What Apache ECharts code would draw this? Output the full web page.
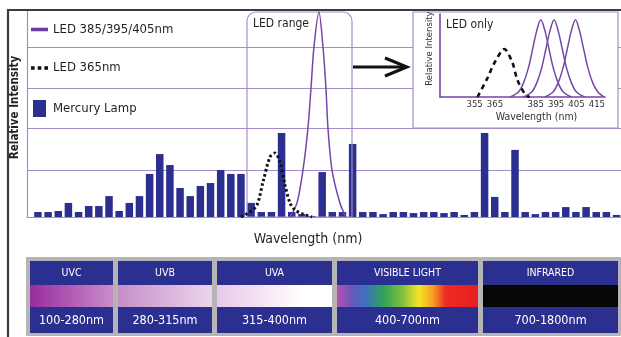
<!DOCTYPE html>
<html>
<head>
<meta charset="utf-8">
<title>UV spectrum</title>
<script src="https://cdn.jsdelivr.net/npm/echarts@6/dist/echarts.min.js"></script>
<style>
  html, body { margin: 0; padding: 0; background: #fff; }
  #uvChart { width: 621px; height: 337px; }
</style>
</head>
<body>
<div id="uvChart"></div>
<script>
// mercury lamp lines, one bar per slot, relative intensity (% of plot height)
var mercuryLamp = [2.4, 2.4, 2.9, 6.8, 2.4, 5.3, 5.3, 10.1, 2.9, 6.8,
    10.1, 20.8, 30.4, 25.1, 14.0, 10.1, 15.0, 16.4, 22.7, 20.8,
    20.8, 6.8, 2.4, 2.4, 40.6, 2.4, 1.4, 0.5, 21.7, 2.4,
    2.4, 35.3, 2.4, 2.4, 1.4, 2.4, 2.4, 1.9, 2.4, 2.4,
    1.9, 2.4, 1.0, 2.4, 40.6, 9.7, 2.4, 32.4, 2.4, 1.4,
    2.4, 2.4, 4.8, 2.4, 4.8, 2.4, 2.4, 1.0];

// LED curves over the bars: [slot, intensity]
var led365Main = [[20.0, 0], [20.89, 2.4], [21.58, 5.8], [22.17, 16.9], [22.86, 29], [23.35, 30.9],
    [23.84, 26.6], [24.33, 15.5], [24.83, 6.8], [25.32, 3.4], [26.11, 1.4], [27.0, 0]];
var ledUvMain = [[24.83, 0], [25.52, 6.8], [26.11, 22.7], [26.6, 43], [26.9, 62.3], [27.19, 82.1], [27.68, 99],
    [28.08, 82.1], [28.37, 62.3], [28.57, 43], [28.97, 22.7], [29.75, 6.8], [30.34, 0]];

// "LED only" inset: [wavelength nm, intensity]
var led365Inset = [[356.4, 0], [361.3, 22.9], [364.7, 41], [369.6, 57.8], [373.6, 41], [376, 20.5], [380, 2.4], [382, 0]];
var led385Inset = [[372.5, 0], [376.5, 6], [379, 17], [381.5, 36], [383.5, 58], [385.5, 80], [387.5, 93],
    [389.5, 80], [391.5, 58], [393.5, 36], [396, 17], [398.5, 6], [402.5, 0]];
var led395Inset = [[379, 0], [383, 6], [385.5, 17], [388, 36], [390, 58], [392, 80], [394, 93],
    [396, 80], [398, 58], [400, 36], [402.5, 17], [405, 6], [409, 0]];
var led405Inset = [[389.5, 0], [393.5, 6], [396, 17], [398.5, 36], [400.5, 58], [402.5, 80], [404.5, 93],
    [406.5, 80], [408.5, 58], [410.5, 36], [413, 17], [415.5, 6], [418.5, 0]];
var insetTicks = [355, 365, 385, 395, 405, 415];

var gridLevels = [22.7, 43, 62.3, 82.1];

var bandNames = ["UVC", "UVB", "UVA", "VISIBLE LIGHT", "INFRARED"];
var bandRanges = ["100-280nm", "280-315nm", "315-400nm", "400-700nm", "700-1800nm"];

var FONT = "'Liberation Sans Narrow', 'DejaVu Sans Condensed', 'Liberation Sans', sans-serif";
var purple = "#7346a6", gridPurple = "#a68cc9", navy = "#2b2f90", ink = "#231f20";

function grad(stops) {
    return new echarts.graphic.LinearGradient(0, 0, 1, 0, stops.map(function (s) { return { offset: s[0], color: s[1] }; }));
}

// bottom strip of spectral bands
var bandX = [30, 118, 217, 337, 483], bandW = [83, 94, 115, 141, 135];
var bandFill = [
    grad([[0, "#992c9d"], [1, "#c98dca"]]),
    grad([[0, "#c78ec8"], [1, "#ecd4ec"]]),
    grad([[0, "#e8c9e8"], [0.75, "#ffffff"], [1, "#ffffff"]]),
    grad([[0, "#b94eae"], [0.1, "#6b58b8"], [0.2, "#3f6fc2"], [0.33, "#2ea35a"], [0.47, "#86c23d"],
        [0.58, "#f3e524"], [0.68, "#f5a021"], [0.77, "#ec2b24"], [1, "#e81f1f"]]),
    "#060606"
];
var bandGraphic = [{ type: "rect", z: 1, shape: { x: 26, y: 257, width: 595, height: 79 }, style: { fill: "#b5b5b5" } }];
bandNames.forEach(function (name, i) {
    var x = bandX[i], w = bandW[i];
    bandGraphic.push({ type: "rect", z: 2, shape: { x: x, y: 261, width: w, height: 72 }, style: { fill: navy } });
    bandGraphic.push({ type: "rect", z: 3, shape: { x: x, y: 285, width: w, height: 22 }, style: { fill: bandFill[i] } });
    bandGraphic.push({ type: "text", z: 4, x: x + w / 2, y: 273, style: { text: name, fill: "#fff", fontFamily: FONT, fontSize: 10.5,
        align: "center", textAlign: "center", verticalAlign: "middle", textVerticalAlign: "middle" } });
    bandGraphic.push({ type: "text", z: 4, x: x + w / 2, y: 321, style: { text: bandRanges[i], fill: "#fff", fontFamily: FONT, fontSize: 12.5,
        align: "center", textAlign: "center", verticalAlign: "middle", textVerticalAlign: "middle" } });
});

var dom = document.getElementById("uvChart");
var myChart = echarts.init(dom, null, { renderer: "canvas" });

var option = {
    animation: false,
    backgroundColor: "#fff",
    textStyle: { fontFamily: FONT },
    legend: {
        orient: "vertical", left: 31, top: 23, padding: 0,
        itemWidth: 17, itemHeight: 17, itemGap: 25.5, selectedMode: false,
        textStyle: { fontFamily: FONT, fontSize: 13, color: ink },
        data: [
            { name: "LED 385/395/405nm", icon: "path://M0,0H17V3.5H0Z" },
            { name: "LED 365nm", icon: "path://M0,0H3V3H0Z M5.5,0H8.5V3H5.5Z M11,0H14V3H11Z" },
            { name: "Mercury Lamp", icon: "path://M0,0H13V17H0Z" }
        ]
    },
    grid: [
        { left: 27, right: 0, top: 10, bottom: 120 },
        { left: 440, right: 16, top: 14, bottom: 240 }
    ],
    xAxis: [
        {
            gridIndex: 0, type: "value", min: -1.08, max: 57.44,
            axisLine: { onZero: false, lineStyle: { color: gridPurple, width: 1.2 } },
            axisTick: { show: false }, axisLabel: { show: false }, splitLine: { show: false },
            name: "Wavelength (nm)", nameLocation: "middle", nameGap: 15,
            nameTextStyle: { fontFamily: FONT, fontSize: 14, color: ink, padding: [0, 32, 0, 0] }
        },
        {
            gridIndex: 1, type: "value", min: 338, max: 419, z: 6,
            axisLine: { onZero: false, lineStyle: { color: purple, width: 1.6 } },
            axisTick: { show: false }, splitLine: { show: false },
            axisLabel: { customValues: insetTicks, fontFamily: FONT, fontSize: 9.5, color: "#333", margin: 3 },
            name: "Wavelength (nm)", nameLocation: "middle", nameGap: 15,
            nameTextStyle: { fontFamily: FONT, fontSize: 10.5, color: "#333", padding: [0, 0, 0, 28] }
        }
    ],
    yAxis: [
        {
            gridIndex: 0, type: "value", min: 0, max: 100,
            axisLine: { show: true, onZero: false, lineStyle: { color: gridPurple, width: 1.2 } },
            axisTick: { show: false }, axisLabel: { show: false }, splitLine: { show: false },
            name: "Relative Intensity", nameLocation: "middle", nameGap: 6,
            nameTextStyle: { fontFamily: FONT, fontSize: 11.5, fontWeight: "bold", color: ink, padding: [0, 0, 0, 12] }
        },
        {
            gridIndex: 1, type: "value", min: 0, max: 100, z: 6,
            axisLine: { show: true, onZero: false, lineStyle: { color: purple, width: 1.6 } },
            axisTick: { show: false }, axisLabel: { show: false }, splitLine: { show: false },
            name: "Relative Intensity", nameLocation: "middle", nameGap: 5,
            nameTextStyle: { fontFamily: FONT, fontSize: 9.5, color: "#333", padding: [0, 0, 0, 14] }
        }
    ],
    series: [
        {
            name: "Mercury Lamp", type: "bar", xAxisIndex: 0, yAxisIndex: 0,
            barWidth: 7.5, itemStyle: { color: navy },
            data: mercuryLamp.map(function (v, i) { return [i, v]; }),
            markLine: {
                silent: true, symbol: "none", z: 1, animation: false,
                label: { show: false },
                lineStyle: { color: gridPurple, width: 1.1, type: "solid" },
                data: gridLevels.map(function (v) { return { yAxis: v }; })
            }
        },
        {
            name: "LED 385/395/405nm", type: "line", xAxisIndex: 0, yAxisIndex: 0,
            smooth: 0.3, symbol: "none", z: 4,
            itemStyle: { color: "#6a3b9f" }, lineStyle: { color: purple, width: 1.5 },
            data: ledUvMain
        },
        {
            name: "LED 365nm", type: "line", xAxisIndex: 0, yAxisIndex: 0,
            smooth: 0.3, symbol: "none", z: 4,
            itemStyle: { color: "#111" }, lineStyle: { color: "#111", width: 3, type: [2.5, 2.5] },
            data: led365Main
        },
        {
            name: "LED 365nm", type: "line", xAxisIndex: 1, yAxisIndex: 1,
            smooth: 0.3, symbol: "none", z: 6,
            itemStyle: { color: "#111" }, lineStyle: { color: "#111", width: 2.6, type: [5, 4] },
            data: led365Inset
        },
        {
            name: "LED 385/395/405nm", type: "line", xAxisIndex: 1, yAxisIndex: 1,
            smooth: 0.3, symbol: "none", z: 6,
            itemStyle: { color: purple }, lineStyle: { color: purple, width: 1.5 },
            data: led385Inset
        },
        {
            name: "LED 385/395/405nm", type: "line", xAxisIndex: 1, yAxisIndex: 1,
            smooth: 0.3, symbol: "none", z: 6,
            itemStyle: { color: purple }, lineStyle: { color: purple, width: 1.5 },
            data: led395Inset
        },
        {
            name: "LED 385/395/405nm", type: "line", xAxisIndex: 1, yAxisIndex: 1,
            smooth: 0.3, symbol: "none", z: 6,
            itemStyle: { color: purple }, lineStyle: { color: purple, width: 1.5 },
            data: led405Inset
        }
    ],
    graphic: bandGraphic.concat([
        // LED range box
        { type: "rect", z: 3, shape: { x: 247, y: 12, width: 105, height: 205, r: [9, 9, 0, 0] },
            style: { fill: null, stroke: gridPurple, lineWidth: 1.2 } },
        { type: "text", z: 4, x: 253, y: 24, style: { text: "LED range", fill: ink, fontFamily: FONT, fontSize: 12,
            verticalAlign: "middle", textVerticalAlign: "middle" } },
        // inset panel
        { type: "rect", z: 3, shape: { x: 413, y: 12, width: 205, height: 116 },
            style: { fill: "#fff", stroke: gridPurple, lineWidth: 1.2 } },
        { type: "text", z: 7, x: 446, y: 25, style: { text: "LED only", fill: ink, fontFamily: FONT, fontSize: 12,
            verticalAlign: "middle", textVerticalAlign: "middle" } },
        // arrow
        { type: "polyline", z: 10, shape: { points: [[353, 67], [406, 67]] }, style: { stroke: "#111", lineWidth: 3, fill: null } },
        { type: "polyline", z: 10, shape: { points: [[385, 58], [407, 67], [385, 76]] }, style: { stroke: "#111", lineWidth: 3, fill: null } },
        // outer frame
        { type: "polyline", z: 10, shape: { points: [[8, 337], [8, 10], [621, 10]] }, style: { stroke: "#3b3b44", lineWidth: 2.2, fill: null } }
    ])
};

option && "object" == typeof option && myChart.setOption(option, !0);
</script>
</body>
</html>
